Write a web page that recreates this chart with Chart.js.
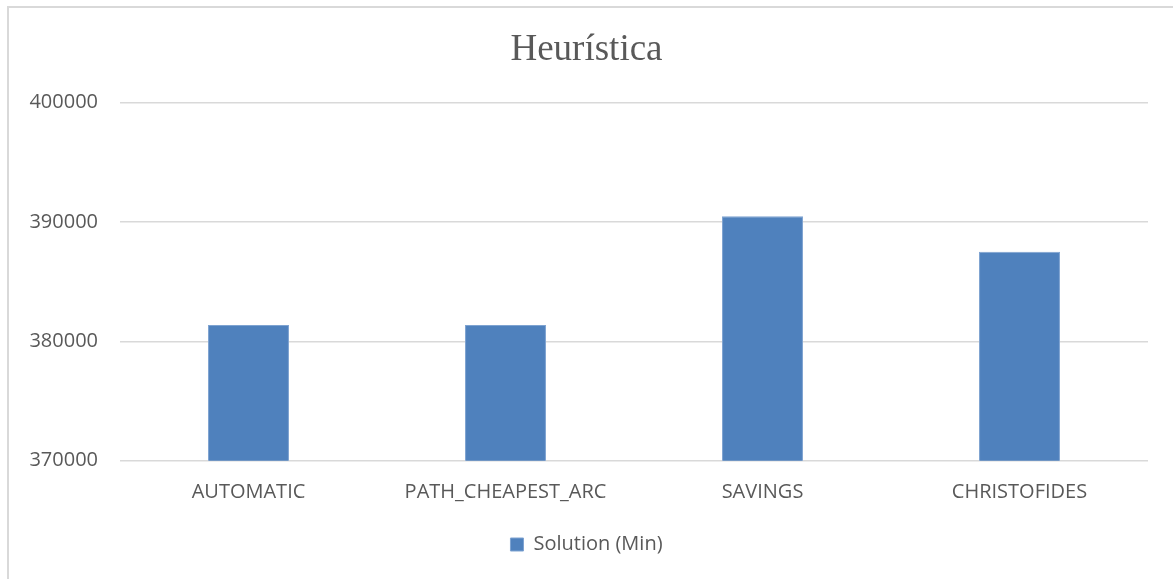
<!DOCTYPE html>
<html>
<head>
<meta charset="utf-8">
<script src="https://cdn.jsdelivr.net/npm/chart.js@4.4.1/dist/chart.umd.min.js"></script>
<style>
  html, body { margin: 0; padding: 0; background: #ffffff; }
  body { width: 1173px; height: 579px; position: relative; overflow: hidden; }
  #wrap { position: absolute; left: 0; top: 0; width: 1173px; height: 579px; }
  #frame {
    position: absolute; left: 7px; top: 6px; width: 1400px; height: 800px;
    border-left: 2px solid #d9d9d9; border-top: 2px solid #d9d9d9;
    pointer-events: none;
  }
</style>
</head>
<body>
<div id="frame"></div>
<div id="wrap"><canvas id="chart" width="1173" height="579"></canvas></div>
<script>
// Heuristic comparison: best solution found per first-solution strategy
const categories = ['AUTOMATIC', 'PATH_CHEAPEST_ARC', 'SAVINGS', 'CHRISTOFIDES'];
const solutionMin = [381380, 381380, 390480, 387510];
const seriesLabel = 'Solution (Min)';
const chartTitle = 'Heurística';
const yTicks = [370000, 380000, 390000, 400000];

const textGray = '#595959';
const gridGray = '#d9d9d9';
const barBlue = '#4f81bd';
const sansFont = "'Open Sans', 'Noto Sans', sans-serif";

new Chart(document.getElementById('chart'), {
  type: 'bar',
  data: {
    labels: categories,
    datasets: [{
      label: seriesLabel,
      data: solutionMin,
      backgroundColor: barBlue,
      borderColor: '#7ea3d1',
      borderWidth: 1,
      barPercentage: 0.315,
      categoryPercentage: 1.0
    }]
  },
  options: {
    responsive: false,
    animation: false,
    devicePixelRatio: 1,
    layout: { padding: { top: 28, left: 25, right: 25, bottom: 14.5 } },
    plugins: {
      title: {
        display: true,
        text: chartTitle,
        color: textGray,
        font: { family: "'Liberation Serif', 'Times New Roman', serif", size: 37, weight: 'normal' },
        padding: { top: 0, bottom: 30.3 }
      },
      legend: {
        position: 'bottom',
        labels: {
          boxWidth: 13,
          boxHeight: 13,
          color: textGray,
          font: { family: sansFont, size: 20 },
          padding: 10
        }
      },
      tooltip: { enabled: false }
    },
    scales: {
      x: {
        grid: { display: false, drawTicks: false },
        border: { display: false },
        ticks: {
          color: textGray,
          font: { family: sansFont, size: 20 },
          padding: 20,
          maxRotation: 0
        },
        afterFit: (scale) => { scale.height = 63.8; }
      },
      y: {
        min: yTicks[0],
        max: yTicks[yTicks.length - 1],
        afterBuildTicks: (scale) => { scale.ticks = yTicks.map(v => ({ value: v })); },
        grid: { color: gridGray, lineWidth: 1.5, drawTicks: false },
        border: { display: false },
        ticks: {
          color: textGray,
          font: { family: sansFont, size: 20 },
          padding: 22,
          callback: (v) => String(v)
        },
        afterFit: (scale) => { scale.width = 95; }
      }
    }
  }
});
</script>
</body>
</html>
